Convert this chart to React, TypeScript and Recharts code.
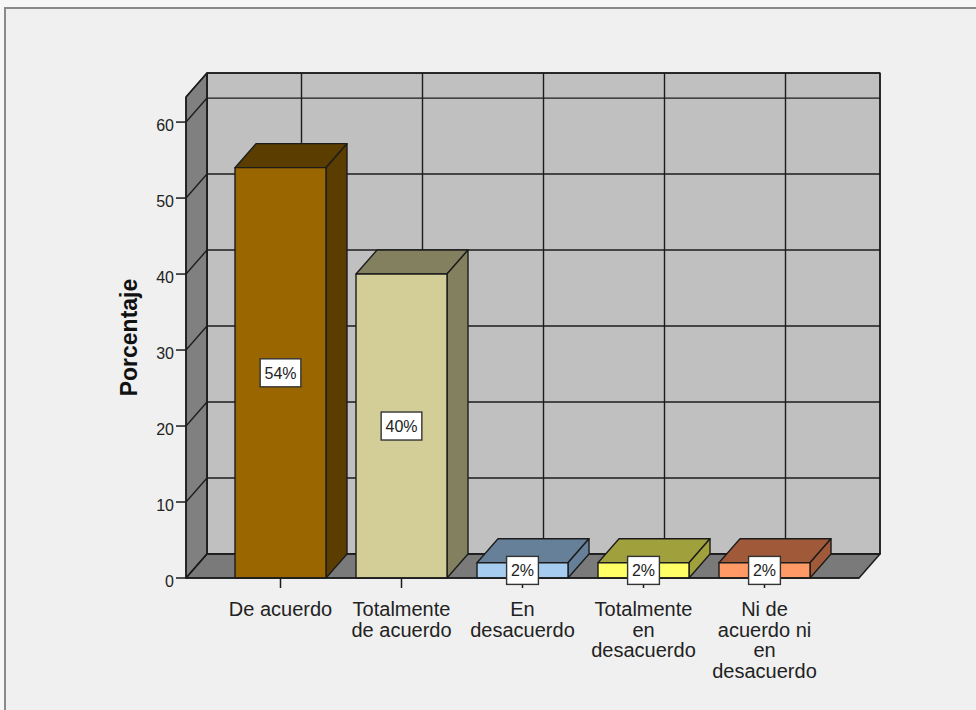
import {
  Bar,
  BarChart,
  CartesianGrid,
  LabelList,
  ReferenceArea,
  XAxis,
  YAxis,
} from "recharts";

const CATEGORIES = [
  "De acuerdo",
  "Totalmente de acuerdo",
  "En desacuerdo",
  "Totalmente en desacuerdo",
  "Ni de acuerdo ni en desacuerdo",
];
const TICK_LINES = [
  ["De acuerdo"],
  ["Totalmente", "de acuerdo"],
  ["En", "desacuerdo"],
  ["Totalmente", "en", "desacuerdo"],
  ["Ni de", "acuerdo ni", "en", "desacuerdo"],
];
const PERCENTS = [54, 40, 2, 2, 2];
const Y_TICKS = [0, 10, 20, 30, 40, 50, 60];
const Y_MAX = 63.3;

const FRONT = ["#996600", "#d3ce97", "#a6cdef", "#ffff66", "#ff9966"];
const SHADE = ["#5c3d00", "#838060", "#66809a", "#a0a03c", "#a05a3a"];

// depth of the fake 3D box
const DX = 21;
const DY = 24;
const LINE = "#1c1c1c";
const FONT = "'Liberation Sans', Arial, sans-serif";

const data = CATEGORIES.map((c, i) => ({
  category: c,
  value: PERCENTS[i],
  front: FRONT[i],
  shade: SHADE[i],
}));

function Walls(props: any) {
  const { x, y, width, height } = props;
  const L = x, R = x + width, T = y, B = y + height;
  return (
    <g stroke={LINE} strokeWidth={1.5} strokeLinejoin="round">
      <rect x={L + DX} y={T - DY} width={width} height={height} fill="#c0c0c0" />
      <polygon
        points={`${L},${B} ${L},${T} ${L + DX},${T - DY} ${L + DX},${B - DY}`}
        fill="#808080"
      />
      <polygon
        points={`${L},${B} ${L + DX},${B - DY} ${R + DX},${B - DY} ${R},${B}`}
        fill="#7a7a7a"
      />
    </g>
  );
}

function GridH(props: any) {
  const { x1, x2, y1 } = props;
  return (
    <g stroke={LINE} strokeWidth={1.4}>
      <line x1={x1 + DX} y1={y1 - DY} x2={x2 + DX} y2={y1 - DY} />
      <line x1={x1} y1={y1} x2={x1 + DX} y2={y1 - DY} />
    </g>
  );
}

function GridV(props: any) {
  const { x1, y1, y2 } = props;
  return (
    <line x1={x1 + DX} y1={y1 - DY} x2={x1 + DX} y2={y2 - DY} stroke={LINE} strokeWidth={1.4} />
  );
}

function Bar3D(props: any) {
  const { x, y, width, height, payload } = props;
  const r = x + width, b = y + height;
  return (
    <g stroke={LINE} strokeWidth={1.4} strokeLinejoin="round">
      <polygon
        points={`${x},${y} ${x + DX},${y - DY} ${r + DX},${y - DY} ${r},${y}`}
        fill={payload.shade}
      />
      <polygon
        points={`${r},${y} ${r + DX},${y - DY} ${r + DX},${b - DY} ${r},${b}`}
        fill={payload.shade}
      />
      <rect x={x} y={y} width={width} height={height} fill={payload.front} />
    </g>
  );
}

function ValueBox(props: any) {
  const { x, y, width, height, value } = props;
  const text = `${value}%`;
  const w = text.length * 8.9 + 14;
  const cx = x + width / 2;
  const cy = y + height / 2;
  return (
    <g>
      <rect
        x={cx - w / 2}
        y={cy - 14}
        width={w}
        height={28}
        fill="#ffffff"
        stroke="#333"
        strokeWidth={1.4}
      />
      <text
        x={cx}
        y={cy + 6}
        textAnchor="middle"
        fontSize={16}
        fontFamily={FONT}
        fill="#222"
      >
        {text}
      </text>
    </g>
  );
}

function XTick(props: any) {
  const { x, y, index } = props;
  const lines = TICK_LINES[index] || [];
  return (
    <text x={x} y={y + 26} textAnchor="middle" fontSize={20} fontFamily={FONT} fill="#222">
      {lines.map((t, i) => (
        <tspan key={i} x={x} dy={i === 0 ? 0 : 20.7}>
          {t}
        </tspan>
      ))}
    </text>
  );
}

function YTick(props: any) {
  const { x, y, payload } = props;
  return (
    <text x={x} y={y + 9} textAnchor="end" fontSize={16} fontFamily={FONT} fill="#222">
      {payload.value}
    </text>
  );
}

function YTitle(props: any) {
  const { x, y, height } = props.viewBox;
  const cx = x + 31;
  const cy = y + height / 2;
  return (
    <text
      x={cx}
      y={cy}
      transform={`rotate(-90, ${cx}, ${cy})`}
      textAnchor="middle"
      fontSize={23}
      fontWeight="bold"
      fontFamily={FONT}
      fill="#111"
    >
      Porcentaje
    </text>
  );
}

export default function App() {
  return (
    <div
      style={{
        position: "absolute",
        left: 0,
        top: 0,
        width: 976,
        height: 710,
        background: "#f7f7f7",
        overflow: "hidden",
      }}
    >
      <div
        style={{
          position: "absolute",
          left: 4,
          top: 7,
          width: 1000,
          height: 720,
          background: "#f0f0f0",
          borderTop: "2px solid #8a8a8a",
          borderLeft: "2px solid #8a8a8a",
        }}
      />
      <div style={{ position: "absolute", left: 0, top: 0 }}>
        <BarChart
          width={976}
          height={710}
          data={data}
          margin={{ top: 97, right: 117, bottom: 32, left: 106 }}
        >
          {/* unpadded copy of the category axis, only used to span the walls */}
          <XAxis xAxisId="frame" dataKey="category" hide />
          <ReferenceArea
            xAxisId="frame"
            x1={CATEGORIES[0]}
            x2={CATEGORIES[CATEGORIES.length - 1]}
            y1={0}
            y2={Y_MAX}
            shape={<Walls />}
            zIndex={-300}
          />
          <CartesianGrid
            horizontal={(p: any) => <GridH key={`h${p.index}`} {...p} />}
            vertical={(p: any) => <GridV key={`v${p.index}`} {...p} />}
            zIndex={-200}
          />
          <XAxis
            dataKey="category"
            height={100}
            padding={{ left: 34, right: 34 }}
            tickSize={10}
            axisLine={{ stroke: LINE, strokeWidth: 1.5 }}
            tickLine={{ stroke: LINE, strokeWidth: 1.5 }}
            tick={<XTick />}
            interval={0}
          />
          <YAxis
            width={80}
            domain={[0, Y_MAX]}
            ticks={Y_TICKS}
            tickSize={10}
            axisLine={{ stroke: LINE, strokeWidth: 1.5 }}
            tickLine={{ stroke: LINE, strokeWidth: 1.5 }}
            tick={<YTick />}
            label={{ content: (p: any) => <YTitle {...p} /> }}
          />
          <Bar dataKey="value" barSize={91} shape={<Bar3D />} isAnimationActive={false}>
            <LabelList dataKey="value" content={<ValueBox />} />
          </Bar>
        </BarChart>
      </div>
    </div>
  );
}
